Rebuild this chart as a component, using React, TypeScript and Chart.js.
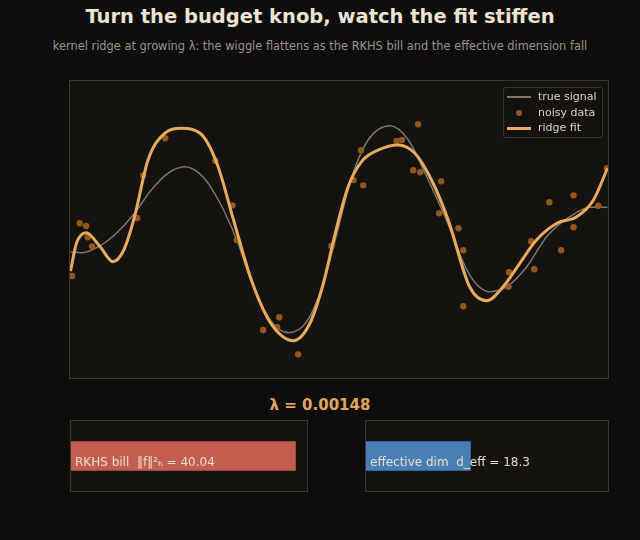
import React, { useEffect, useRef } from "react";
import { Chart, registerables } from "chart.js";

Chart.register(...registerables);

// ---- data ----
const TRUE_X = [0.001, 0.021, 0.058, 0.089, 0.12, 0.151, 0.182, 0.213, 0.247, 0.279, 0.31, 0.341, 0.372, 0.406, 0.44, 0.471, 0.493, 0.524, 0.554, 0.595, 0.629, 0.66, 0.697, 0.743, 0.781, 0.812, 0.849, 0.886, 0.929, 0.967, 0.999];
const TRUE_Y = [-0.224, -0.234, -0.157, -0.022, 0.164, 0.399, 0.568, 0.634, 0.533, 0.265, -0.106, -0.578, -0.914, -1.042, -0.931, -0.543, -0.106, 0.533, 0.904, 1.048, 0.904, 0.568, 0.129, -0.46, -0.628, -0.578, -0.376, -0.073, 0.129, 0.224, 0.224];

const DATA_X = [0.004, 0.018, 0.03, 0.033, 0.041, 0.125, 0.136, 0.177, 0.27, 0.302, 0.31, 0.359, 0.385, 0.389, 0.424, 0.486, 0.527, 0.541, 0.545, 0.607, 0.617, 0.638, 0.647, 0.651, 0.686, 0.69, 0.722, 0.731, 0.731, 0.815, 0.816, 0.857, 0.863, 0.891, 0.913, 0.936, 0.936, 0.982, 0.998];
const DATA_Y = [-0.47, 0.063, 0.035, -0.079, -0.17, 0.116, 0.547, 0.921, 0.695, 0.244, -0.106, -1.015, -0.988, -0.887, -1.261, -0.167, 0.5, 0.8, 0.446, 0.894, 0.904, 0.598, 1.063, 0.578, 0.164, 0.487, 0.012, -0.21, -0.776, -0.578, -0.432, -0.119, -0.402, 0.275, -0.21, 0.345, 0.022, 0.24, 0.618];

const FIT_X = [0.001, 0.012, 0.03, 0.056, 0.08, 0.1, 0.12, 0.145, 0.176, 0.207, 0.242, 0.273, 0.304, 0.335, 0.366, 0.39, 0.415, 0.446, 0.471, 0.493, 0.517, 0.542, 0.573, 0.61, 0.641, 0.672, 0.703, 0.743, 0.775, 0.805, 0.836, 0.867, 0.905, 0.942, 0.973, 0.999];
const FIT_Y = [-0.421, -0.139, -0.032, -0.174, -0.325, -0.207, 0.129, 0.702, 0.972, 1.022, 0.972, 0.669, 0.096, -0.477, -0.881, -1.056, -1.123, -0.947, -0.543, -0.038, 0.432, 0.685, 0.803, 0.854, 0.77, 0.5, 0.096, -0.581, -0.719, -0.578, -0.341, -0.106, 0.063, 0.129, 0.298, 0.618];

const LAMBDA = 0.00148;
const RKHS_BILL = 40.04;
const RKHS_MAX = 42.1;
const D_EFF = 18.3;
const D_EFF_MAX = 42.4;

const LEGEND_LABELS = ["true signal", "noisy data", "ridge fit"];

// ---- styles ----
const PAGE_BG = "#0e0d0b";
const PANEL_BG = "#14130f";
const BORDER = "#3a3833";
const GRAY = "#7b776d";
const ORANGE = "#e9a95e";
const DOT = "#92571f";
const FONT = "'DejaVu Sans', sans-serif";

const panelPlugin = {
  id: "panelBg",
  beforeDraw(chart: any) {
    const { ctx, chartArea: a } = chart;
    ctx.save();
    ctx.fillStyle = PANEL_BG;
    ctx.fillRect(a.left, a.top, a.right - a.left, a.bottom - a.top);
    ctx.restore();
  },
  afterDraw(chart: any) {
    const { ctx, chartArea: a } = chart;
    ctx.save();
    ctx.strokeStyle = BORDER;
    ctx.lineWidth = 1;
    ctx.strokeRect(Math.round(a.left) - 0.5, Math.round(a.top) - 0.5, Math.round(a.right - a.left) + 1, Math.round(a.bottom - a.top) + 1);
    ctx.restore();
  },
};

function toPts(xs: number[], ys: number[]) {
  return xs.map((x, i) => ({ x, y: ys[i] }));
}

function MainChart() {
  const ref = useRef<HTMLCanvasElement>(null);
  useEffect(() => {
    const chart = new Chart(ref.current!, {
      type: "scatter",
      data: {
        datasets: [
          {
            label: LEGEND_LABELS[2],
            data: toPts(FIT_X, FIT_Y),
            showLine: true,
            borderColor: ORANGE,
            borderWidth: 3,
            pointRadius: 0,
            cubicInterpolationMode: "monotone",
            order: 0,
          } as any,
          {
            label: LEGEND_LABELS[1],
            data: toPts(DATA_X, DATA_Y),
            showLine: false,
            backgroundColor: DOT,
            borderWidth: 0,
            pointRadius: 3.2,
            order: 1,
          },
          {
            label: LEGEND_LABELS[0],
            data: toPts(TRUE_X, TRUE_Y),
            showLine: true,
            borderColor: GRAY,
            borderWidth: 1.5,
            pointRadius: 0,
            cubicInterpolationMode: "monotone",
            order: 2,
          } as any,
        ],
      },
      options: {
        animation: false,
        responsive: false,
        devicePixelRatio: 1,
        layout: { padding: { left: 70, top: 81, right: 32, bottom: 12 } },
        scales: {
          x: { type: "linear", min: 0, max: 1, display: false },
          y: { type: "linear", min: -1.5, max: 1.5, display: false },
        },
        plugins: { legend: { display: false }, tooltip: { enabled: false }, title: { display: false } },
      },
      plugins: [panelPlugin],
    });
    return () => chart.destroy();
  }, []);
  return <canvas ref={ref} width={640} height={390} style={{ position: "absolute", left: 0, top: 0, width: 640, height: 390 }} />;
}

function BarPanel(props: { left: number; width: number; value: number; max: number; color: string; label: string }) {
  const ref = useRef<HTMLCanvasElement>(null);
  const { left, width, value, max, color, label } = props;
  useEffect(() => {
    const chart = new Chart(ref.current!, {
      type: "bar",
      data: {
        labels: [label],
        datasets: [{ data: [value], backgroundColor: color, borderWidth: 0, barThickness: 29 }],
      },
      options: {
        indexAxis: "y",
        animation: false,
        responsive: false,
        devicePixelRatio: 1,
        layout: { padding: { left: 1, right: 1, top: 1, bottom: 1 } },
        scales: {
          x: { type: "linear", min: 0, max, display: false },
          y: { display: false },
        },
        plugins: { legend: { display: false }, tooltip: { enabled: false } },
      },
      plugins: [panelPlugin],
    });
    return () => chart.destroy();
  }, []);
  return (
    <>
      <canvas ref={ref} width={width} height={72} style={{ position: "absolute", left, top: 420, width, height: 72 }} />
      <div style={{ position: "absolute", left: left + 5, top: 454, fontSize: 12, lineHeight: "16px", color: "#e6dccb", whiteSpace: "pre" }}>
        {label}
      </div>
    </>
  );
}

export default function App() {
  useEffect(() => {
    document.body.style.margin = "0";
    document.body.style.background = PAGE_BG;
  }, []);
  return (
    <div style={{ position: "relative", width: 640, height: 540, background: PAGE_BG, fontFamily: FONT, overflow: "hidden" }}>
      <div style={{ position: "absolute", left: 0, top: 5, width: 640, textAlign: "center", fontSize: 19.5, fontWeight: "bold", lineHeight: "24px", color: "#ece3d3" }}>
        Turn the budget knob, watch the fit stiffen
      </div>
      <div style={{ position: "absolute", left: 0, top: 39, width: 640, textAlign: "center", fontSize: 11.4, lineHeight: "14px", color: "#9b948a" }}>
        kernel ridge at growing λ: the wiggle flattens as the RKHS bill and the effective dimension fall
      </div>
      <MainChart />
      <div style={{ position: "absolute", left: 503, top: 87, width: 98, height: 49, border: `1px solid ${BORDER}`, borderRadius: 3, background: "rgba(20,19,15,0.85)" }}>
        {LEGEND_LABELS.map((t, i) => (
          <div key={t} style={{ position: "absolute", left: 0, top: 1 + i * 15.5, height: 15, width: 98 }}>
            {i === 1 ? (
              <div style={{ position: "absolute", left: 12, top: 5, width: 6, height: 6, borderRadius: 3, background: DOT }} />
            ) : (
              <div style={{ position: "absolute", left: 3, top: i === 0 ? 7 : 6.5, width: 24, height: i === 0 ? 2 : 3, background: i === 0 ? GRAY : ORANGE }} />
            )}
            <div style={{ position: "absolute", left: 34, top: 0, fontSize: 11, lineHeight: "15px", color: "#ddd5c6", whiteSpace: "nowrap" }}>{t}</div>
          </div>
        ))}
      </div>
      <div style={{ position: "absolute", left: 0, top: 395, width: 640, textAlign: "center", fontSize: 15, fontWeight: "bold", lineHeight: "20px", color: "#e2a55e" }}>
        {"λ = " + LAMBDA.toFixed(5)}
      </div>
      <BarPanel left={70} width={238} value={RKHS_BILL} max={RKHS_MAX} color="#c45e4e" label={"RKHS bill  ‖f‖²ₕ = " + RKHS_BILL.toFixed(2)} />
      <BarPanel left={365} width={244} value={D_EFF} max={D_EFF_MAX} color="#4a7fb5" label={"effective dim  d_eff = " + D_EFF.toFixed(1)} />
    </div>
  );
}
